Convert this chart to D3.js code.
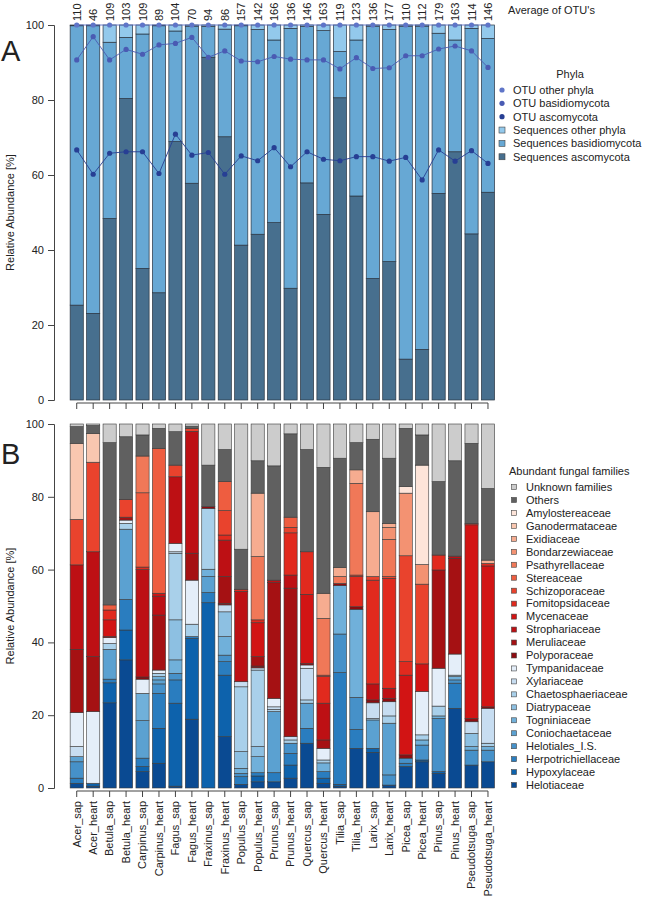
<!DOCTYPE html>
<html>
<head>
<meta charset="utf-8">
<script src="https://cdn.jsdelivr.net/npm/d3@7"></script>
<style>
  body { margin: 0; background: #fff; }
  text { font-family: "Liberation Sans", Arial, Helvetica, sans-serif; fill: #222; }
</style>
</head>
<body>
<div class="plot"></div>
<script>
// samples (x axis)
var samples = ["Acer_sap", "Acer_heart", "Betula_sap", "Betula_heart", "Carpinus_sap", "Carpinus_heart",
  "Fagus_sap", "Fagus_heart", "Fraxinus_sap", "Fraxinus_heart", "Populus_sap", "Populus_heart",
  "Prunus_sap", "Prunus_heart", "Quercus_sap", "Quercus_heart", "Tilia_sap", "Tilia_heart",
  "Larix_sap", "Larix_heart", "Picea_sap", "Picea_heart", "Pinus_sap", "Pinus_heart",
  "Pseudotsuga_sap", "Pseudotsuga_heart"];

// average number of OTUs (labels above panel A)
var otu_counts = [110, 46, 109, 103, 109, 89, 104, 70, 94, 86, 157, 142, 166, 136, 146, 163, 119, 123, 136, 177, 110, 112, 179, 163, 114, 146];

// panel A: share of sequences (%)
var seq_asco    = [25.3, 23.1, 48.4, 80.4, 35.1, 28.6, 68.9, 57.8, 91.4, 70.2, 41.3, 44.2, 47.3, 29.8, 57.9, 49.5, 80.6, 54.4, 32.4, 36.9, 10.9, 13.5, 55.1, 66.2, 44.3, 55.4];
var seq_basidio = [74.5, 76.7, 47.0, 16.3, 62.5, 71.2, 29.5, 41.9, 8.2, 28.7, 58.5, 54.6, 48.7, 69.3, 41.7, 49.0, 12.3, 41.6, 67.3, 61.9, 88.8, 86.2, 42.7, 29.8, 54.8, 41.0];
var seq_other   = [0.2, 0.2, 4.6, 3.3, 2.4, 0.2, 1.6, 0.3, 0.4, 1.1, 0.2, 1.2, 4.0, 0.9, 0.4, 1.5, 7.1, 4.0, 0.3, 1.2, 0.3, 0.3, 2.2, 4.0, 0.9, 3.6];

// panel A: share of OTUs (%)
var otu_asco    = [66.7, 60.2, 65.8, 66.2, 66.2, 60.4, 70.9, 65.3, 66.0, 60.2, 65.1, 63.8, 67.3, 62.2, 66.2, 64.2, 63.8, 64.9, 64.9, 63.7, 64.7, 58.7, 66.7, 63.7, 66.5, 63.1];
var otu_basidio = [24.0, 36.7, 24.9, 27.3, 26.0, 34.3, 24.2, 31.4, 25.4, 32.9, 25.3, 26.4, 24.3, 28.7, 24.5, 26.5, 24.5, 26.4, 23.5, 24.9, 27.1, 33.1, 26.9, 30.7, 26.6, 25.6];
var otu_other   = [9.3, 3.1, 9.3, 6.5, 7.8, 5.3, 4.9, 3.3, 8.6, 6.9, 9.6, 9.8, 8.4, 9.1, 9.3, 9.3, 11.7, 8.7, 11.6, 11.4, 8.2, 8.2, 6.4, 5.6, 6.9, 11.3];

// panel B: families, bottom of the stack first
var families = ["Helotiaceae", "Hypoxylaceae", "Herpotrichiellaceae", "Helotiales_I.S.", "Coniochaetaceae",
  "Togniniaceae", "Diatrypaceae", "Chaetosphaeriaceae", "Xylariaceae", "Tympanidaceae",
  "Polyporaceae", "Meruliaceae", "Strophariaceae", "Mycenaceae", "Fomitopsidaceae", "Schizoporaceae",
  "Stereaceae", "Psathyrellaceae", "Bondarzewiaceae", "Exidiaceae", "Ganodermataceae", "Amylostereaceae",
  "Others", "Unknown families"];

var helotiaceae        = [1.3, 0.5, 23.4, 35.2, 4.5, 6.8, 0.5, 18.9, 0, 14.1, 1.0, 1.7, 1.7, 2.7, 12.3, 1.3, 0.5, 10.9, 9.8, 0.8, 5.9, 7.2, 4.0, 21.9, 6.3, 7.2];
var hypoxylaceae       = [0, 0.8, 5.5, 8.2, 1.4, 9.6, 22.8, 22.2, 50.9, 16.9, 0, 1.6, 0, 3.6, 0, 1.4, 0.5, 0, 1.1, 0, 0, 0.5, 0.5, 0, 0, 0];
var herpotrichiellaceae = [1.4, 0, 1.0, 8.4, 2.3, 9.6, 6.4, 0.5, 2.8, 3.7, 2.1, 0.9, 2.5, 3.2, 4.1, 1.8, 30.7, 5.2, 0, 0, 0.9, 0, 0, 6.9, 0, 0];
var helotiales_is      = [4.5, 0, 0, 0, 0, 2.6, 1.8, 0, 0, 1.8, 0.9, 0, 0, 2.8, 0, 0, 10.6, 8.8, 0, 2.8, 1.4, 4.1, 14.6, 0.9, 4.1, 3.2];
var coniochaetaceae    = [1.4, 0, 8.2, 19.3, 10.3, 1.1, 0, 0, 4.4, 0, 0, 0, 16.8, 0, 6.9, 0, 0, 0, 7.8, 14.2, 0, 0, 0, 0, 0, 0];
var togniniaceae       = [0, 0, 0, 0, 7.5, 0.9, 3.7, 0, 2.0, 5.1, 1.4, 4.4, 0, 0, 0, 2.4, 13.3, 24.2, 0, 0, 0, 1.4, 0.7, 0.9, 1.0, 1.0];
var diatrypaceae       = [0, 0, 0, 0, 0, 0, 11.0, 0, 0, 6.8, 4.6, 2.8, 0, 0, 0, 0, 0, 0, 0, 0, 0, 0, 0, 0, 3.6, 0];
var chaetosphaeriaceae = [0, 0, 1.6, 1.6, 0, 0.9, 18.3, 3.4, 16.7, 0, 17.8, 21.0, 0.6, 0.9, 0.9, 0.8, 0, 0, 0.4, 2.0, 0, 1.4, 2.7, 0.4, 0, 0.9];
var xylariaceae        = [2.8, 0, 0, 0, 0, 0, 0.4, 0, 0, 1.9, 1.4, 0.6, 0.7, 0.9, 8.7, 0, 0, 0, 4.3, 3.9, 0, 0, 0, 0, 3.2, 9.6];
var tympanidaceae      = [9.3, 19.7, 1.6, 0.9, 3.9, 0.9, 2.3, 12.1, 0, 0, 0, 0, 2.3, 0, 0.9, 3.2, 0, 0, 0, 0, 0, 11.9, 10.4, 5.8, 0, 0];
var polyporaceae       = [0, 0, 0, 0, 0.6, 0, 0, 0, 0.5, 0.4, 0, 0.5, 0, 0, 0.4, 0, 0.6, 0.7, 0.8, 0.9, 0.9, 0, 0, 0, 0.9, 0.4];
var meruliaceae        = [17.4, 15.1, 0.3, 0.8, 0, 15.1, 0, 7.4, 0, 7.4, 0, 2.6, 31.8, 40.8, 0, 2.3, 0, 0, 0, 0, 0, 0, 27.0, 26.3, 0, 0];
var strophariaceae     = [23.2, 28.8, 0, 0, 29.5, 5.2, 18.3, 33.5, 0, 10.0, 24.8, 0, 0.7, 3.6, 0, 10.1, 0, 0, 4.4, 2.8, 0, 0, 0, 0.6, 0, 0];
var mycenaceae         = [0, 0, 4.6, 0, 0, 0.8, 0, 0, 0, 0, 0, 9.3, 0, 0, 19.0, 0, 0, 0, 0, 0, 21.9, 7.6, 0, 0, 53.2, 38.7];
var fomitopsidaceae    = [0, 0, 2.7, 0, 0.7, 0, 0, 0, 0, 1.4, 0.6, 0.8, 0, 11.6, 11.7, 7.3, 0, 8.3, 28.5, 30.2, 3.7, 0, 4.1, 0, 0.4, 0.7];
var schizoporaceae     = [12.5, 24.6, 0, 4.9, 0, 0, 3.2, 0.8, 0, 6.7, 0, 0, 0, 1.5, 0, 0.4, 0, 0.4, 1.0, 0.5, 29.1, 21.9, 0, 0, 0, 0];
var stereaceae         = [0, 0, 1.4, 0, 20.4, 39.8, 0, 0, 0, 8.0, 0, 0, 0, 2.8, 0, 0, 0, 0, 0, 0, 0, 0, 0, 0, 0, 0];
var psathyrellaceae    = [0, 0, 0, 0, 10.1, 0, 0, 0, 0, 0, 0, 17.4, 0, 0, 0, 15.6, 1.9, 25.2, 0, 10.2, 0, 0, 0, 0, 0, 0];
var bondarzewiaceae    = [0, 0, 0, 0, 0, 0, 0, 0, 0, 0, 0, 0, 0, 0, 0, 0, 0, 0, 0, 3.3, 17.2, 5.4, 0, 0, 0, 0];
var exidiaceae         = [0, 0, 0, 0, 0, 0, 0, 0, 0, 0, 0, 17.4, 0, 0, 0, 6.9, 2.5, 3.7, 17.8, 1.1, 0, 0, 0, 0, 0, 0.9];
var ganodermataceae    = [20.9, 7.9, 0, 0, 0, 0, 0, 0, 0, 0, 0, 0, 0, 0, 0, 0, 0, 0, 0, 0, 0, 0, 0, 0, 0, 0];
var amylostereaceae    = [0, 0, 0, 0, 0, 0, 0, 0, 0, 0, 0, 0, 0, 0, 0, 0, 0, 0, 0, 0, 1.8, 27.3, 0, 0, 0, 0];
var others             = [4.6, 2.2, 44.6, 17.2, 5.8, 5.5, 9.2, 0.6, 11.4, 8.8, 11.0, 8.9, 31.4, 22.9, 28.1, 34.6, 30.0, 7.5, 19.9, 17.9, 16.0, 8.3, 20.2, 26.2, 22.0, 19.7];
var unknown_families   = [0.7, 0.4, 5.1, 3.5, 3.0, 1.2, 2.1, 0.6, 11.3, 7.0, 34.4, 10.1, 11.5, 2.7, 7.0, 11.9, 9.4, 5.1, 4.2, 9.4, 1.2, 3.0, 15.8, 10.1, 5.3, 17.7];

var family_series = [helotiaceae, hypoxylaceae, herpotrichiellaceae, helotiales_is, coniochaetaceae,
  togniniaceae, diatrypaceae, chaetosphaeriaceae, xylariaceae, tympanidaceae,
  polyporaceae, meruliaceae, strophariaceae, mycenaceae, fomitopsidaceae, schizoporaceae,
  stereaceae, psathyrellaceae, bondarzewiaceae, exidiaceae, ganodermataceae, amylostereaceae,
  others, unknown_families];

var y_ticks = [0, 20, 40, 60, 80, 100];

// colours
var seq_colors = ["#476f8e", "#67a8d4", "#93c9ec"];
var otu_colors = ["#273f94", "#4a5bb3", "#5f75c8"];
var family_colors = ["#0a4a92", "#0d62ac", "#2a7dbf", "#4691c9", "#5ba1d1", "#70b0da", "#8dc0e2", "#a9d0ea", "#c7ddf1", "#e4eef9",
  "#8e0c10", "#a51113", "#bd1014", "#d21414", "#e12a1e", "#e9432d", "#ee5d40", "#f07858", "#f39272", "#f6ac90", "#f9c7b0", "#fde4d9",
  "#606060", "#cccccc"];

var width = 646, height = 900;
var font_size = 11;

var svg = d3.select(".plot")
  .append("svg")
  .attr("width", width)
  .attr("height", height);

var x = d3.scaleBand()
  .domain(samples)
  .range([68.5, 496.2])
  .paddingInner(0.2)
  .paddingOuter(0.1);
var xc = function(s) { return x(s) + x.bandwidth() / 2; };

var yA = d3.scaleLinear().domain([0, 100]).range([400, 25]);
var yB = d3.scaleLinear().domain([0, 100]).range([788, 424]);

function y_axis(y) {
  var g = svg.append("g")
    .attr("transform", "translate(54,0)")
    .call(d3.axisLeft(y).tickValues(y_ticks).tickSizeOuter(0).tickSize(6).tickPadding(4));
  g.selectAll("text").style("font-size", font_size + "px").attr("fill", "#222");
  g.selectAll("line, path").attr("stroke", "#444");
}

function x_axis(y0, labels) {
  var g = svg.append("g")
    .attr("transform", "translate(0," + y0 + ")")
    .call(d3.axisBottom(x).tickSize(6).tickSizeOuter(0));
  g.select(".domain").attr("d", "M" + xc(samples[0]) + ",0H" + xc(samples[samples.length - 1]));
  g.selectAll("line, path").attr("stroke", "#444");
  if (labels) {
    g.selectAll("text")
      .attr("transform", "rotate(-90)")
      .attr("x", -10).attr("y", 0).attr("dy", "0.35em")
      .attr("text-anchor", "end")
      .attr("fill", "#222")
      .style("font-size", font_size + "px");
  } else {
    g.selectAll("text").remove();
  }
}

function y_label(y) {
  var cy = (y(0) + y(100)) / 2;
  svg.append("text")
    .attr("transform", "translate(14," + cy + ") rotate(-90)")
    .attr("text-anchor", "middle")
    .style("font-size", font_size + "px")
    .text("Relative Abundance [%]");
}

// ---------- panel A ----------
var seq_rows = samples.map(function(s, i) {
  return {sample: s, asco: seq_asco[i], basidio: seq_basidio[i], other: seq_other[i]};
});
var seq_stack = d3.stack().keys(["asco", "basidio", "other"])(seq_rows);

svg.append("g").selectAll("g")
  .data(seq_stack)
  .enter().append("g")
  .attr("fill", function(d, i) { return seq_colors[i]; })
  .selectAll("rect")
  .data(function(d) { return d; })
  .enter().append("rect")
  .attr("x", function(d) { return x(d.data.sample); })
  .attr("y", function(d) { return yA(d[1]); })
  .attr("width", x.bandwidth())
  .attr("height", function(d) { return yA(d[0]) - yA(d[1]); })
  .attr("stroke", "#2a3440")
  .attr("stroke-width", 0.7);

var otu_rows = samples.map(function(s, i) {
  return {sample: s, asco: otu_asco[i], basidio: otu_basidio[i], other: otu_other[i]};
});
var otu_stack = d3.stack().keys(["asco", "basidio", "other"])(otu_rows);

otu_stack.forEach(function(series, i) {
  var line = d3.line()
    .x(function(d) { return xc(d.data.sample); })
    .y(function(d) { return yA(d[1]); });
  svg.append("path")
    .datum(series)
    .attr("d", line)
    .attr("fill", "none")
    .attr("stroke", otu_colors[i])
    .attr("stroke-width", 0.9);
  svg.append("g").selectAll("circle")
    .data(series)
    .enter().append("circle")
    .attr("cx", function(d) { return xc(d.data.sample); })
    .attr("cy", function(d) { return yA(d[1]); })
    .attr("r", 2.6)
    .attr("fill", otu_colors[i]);
});

// OTU counts above the bars
svg.append("g").selectAll("text")
  .data(samples)
  .enter().append("text")
  .attr("transform", function(d) { return "translate(" + (xc(d) + 4) + ",21) rotate(-90)"; })
  .attr("text-anchor", "start")
  .style("font-size", font_size + "px")
  .text(function(d, i) { return otu_counts[i]; });

svg.append("text")
  .attr("x", 508).attr("y", 14)
  .style("font-size", font_size + "px")
  .text("Average of OTU's");

y_axis(yA);
x_axis(403, false);
y_label(yA);

svg.append("text")
  .attr("x", 1).attr("y", 61)
  .style("font-size", "29px")
  .text("A");

// phyla legend
var phyla_labels = ["OTU other phyla", "OTU basidiomycota", "OTU ascomycota",
  "Sequences other phyla", "Sequences basidiomycota", "Sequences ascomycota"];
var phyla_fill = [otu_colors[2], otu_colors[1], otu_colors[0], seq_colors[2], seq_colors[1], seq_colors[0]];

svg.append("text")
  .attr("x", 570).attr("y", 78)
  .attr("text-anchor", "middle")
  .style("font-size", font_size + "px")
  .text("Phyla");

var phyla_leg = svg.append("g").attr("transform", "translate(502,90)");
phyla_labels.forEach(function(d, i) {
  if (i < 3) {
    phyla_leg.append("circle")
      .attr("cx", 0).attr("cy", i * 13.35)
      .attr("r", 2.6)
      .attr("fill", phyla_fill[i]);
  } else {
    phyla_leg.append("rect")
      .attr("x", -3).attr("y", i * 13.35 - 3)
      .attr("width", 6).attr("height", 6)
      .attr("fill", phyla_fill[i])
      .attr("stroke", "#444").attr("stroke-width", 0.6);
  }
});
phyla_leg.selectAll("text")
  .data(phyla_labels)
  .enter().append("text")
  .attr("x", 11)
  .attr("y", function(d, i) { return i * 13.35; })
  .attr("dy", "0.35em")
  .style("font-size", font_size + "px")
  .text(function(d) { return d; });

// ---------- panel B ----------
var fam_rows = samples.map(function(s, i) {
  var row = {sample: s};
  families.forEach(function(f, j) { row[f] = family_series[j][i]; });
  return row;
});
var fam_stack = d3.stack().keys(families)(fam_rows);

svg.append("g").selectAll("g")
  .data(fam_stack)
  .enter().append("g")
  .attr("fill", function(d, i) { return family_colors[i]; })
  .selectAll("rect")
  .data(function(d) { return d; })
  .enter().append("rect")
  .attr("x", function(d) { return x(d.data.sample); })
  .attr("y", function(d) { return yB(d[1]); })
  .attr("width", x.bandwidth())
  .attr("height", function(d) { return yB(d[0]) - yB(d[1]); })
  .attr("stroke", "#3a3a3a")
  .attr("stroke-width", 0.6);

y_axis(yB);
x_axis(791, true);
y_label(yB);

svg.append("text")
  .attr("x", 1).attr("y", 464)
  .style("font-size", "29px")
  .text("B");

// family legend, top entry = top of stack
var leg_families = families.slice().reverse();
var leg_colors = family_colors.slice().reverse();

svg.append("text")
  .attr("x", 509).attr("y", 475)
  .style("font-size", font_size + "px")
  .text("Abundant fungal families");

var fam_leg = svg.append("g").attr("transform", "translate(514,487)");
fam_leg.selectAll("rect")
  .data(leg_families)
  .enter().append("rect")
  .attr("x", -2.5)
  .attr("y", function(d, i) { return i * 12.96 - 2.5; })
  .attr("width", 5).attr("height", 5)
  .attr("fill", function(d, i) { return leg_colors[i]; })
  .attr("stroke", "#444").attr("stroke-width", 0.6);
fam_leg.selectAll("text")
  .data(leg_families)
  .enter().append("text")
  .attr("x", 12)
  .attr("y", function(d, i) { return i * 12.96; })
  .attr("dy", "0.35em")
  .style("font-size", font_size + "px")
  .text(function(d) { return d; });
</script>
</body>
</html>
